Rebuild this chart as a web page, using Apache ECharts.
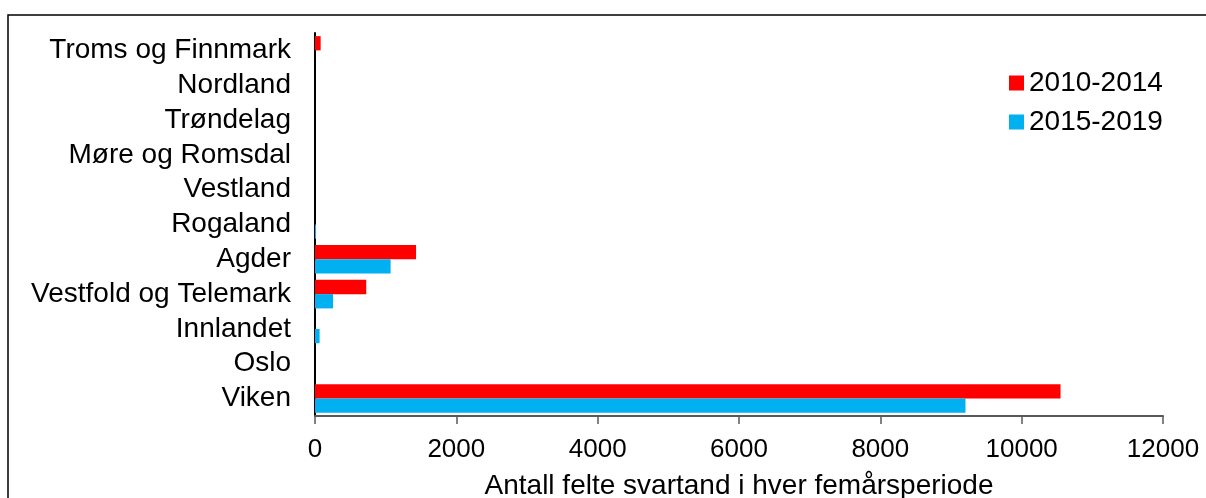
<!DOCTYPE html>
<html>
<head>
<meta charset="utf-8">
<script src="https://cdn.jsdelivr.net/npm/echarts@6/dist/echarts.min.js"></script>
<style>
html,body{margin:0;padding:0;background:#fff;}
#chart{width:1206px;height:498px;}
</style>
</head>
<body>
<div id="chart"></div>
<script>
const categories = ["Troms og Finnmark","Nordland","Trøndelag","Møre og Romsdal","Vestland","Rogaland","Agder","Vestfold og Telemark","Innlandet","Oslo","Viken"];
const series2010 = [80,0,0,0,0,0,1430,725,0,0,10550];
const series2015 = [0,0,0,0,0,15,1070,255,65,0,9205];
const seriesNames = ["2010-2014","2015-2019"];
const xTicks = {min:0,max:12000,interval:2000};
const axisTitle = "Antall felte svartand i hver femårsperiode";

const FONT = "'Liberation Sans', Arial, sans-serif";
const chart = echarts.init(document.getElementById('chart'), null, {renderer:'canvas'});
chart.setOption({
  animation:false,
  backgroundColor:'#fff',
  graphic:[{type:'rect',shape:{x:8,y:15,width:1400,height:700},style:{fill:'none',stroke:'#000',lineWidth:1.5},silent:true,z:-1}],
  grid:{left:315,right:43,top:33,bottom:82,containLabel:false,outerBoundsMode:'none'},
  legend:{
    orient:'vertical', left:1009, top:69, padding:0, itemWidth:15, itemHeight:15, itemGap:11,
    icon:'rect',
    textStyle:{fontFamily:FONT,fontSize:28,lineHeight:28,color:'#000'},
    data:seriesNames
  },
  xAxis:{
    type:'value', min:xTicks.min, max:xTicks.max, interval:xTicks.interval,
    splitLine:{show:false},
    axisLine:{show:true,lineStyle:{color:'#595959',width:2}},
    axisTick:{show:true,length:8,lineStyle:{color:'#595959',width:1.5}},
    axisLabel:{fontFamily:FONT,fontSize:26,color:'#000',margin:21,formatter:function(v){return String(v);}},
    name:axisTitle, nameLocation:'middle', nameGap:56,
    nameTextStyle:{fontFamily:FONT,fontSize:28,color:'#000'}
  },
  yAxis:{
    type:'category', data:categories, inverse:true,
    axisLine:{show:true,lineStyle:{color:'#000',width:2}},
    axisTick:{show:false},
    axisLabel:{fontFamily:FONT,fontSize:28,color:'#000',margin:24,interval:0}
  },
  series:[
    {name:seriesNames[0],type:'bar',data:series2010,itemStyle:{color:'#FF0000'},barGap:'0%',barCategoryGap:'18%'},
    {name:seriesNames[1],type:'bar',data:series2015,itemStyle:{color:'#00B0F0'},barGap:'0%',barCategoryGap:'18%'}
  ]
});
</script>
</body>
</html>
